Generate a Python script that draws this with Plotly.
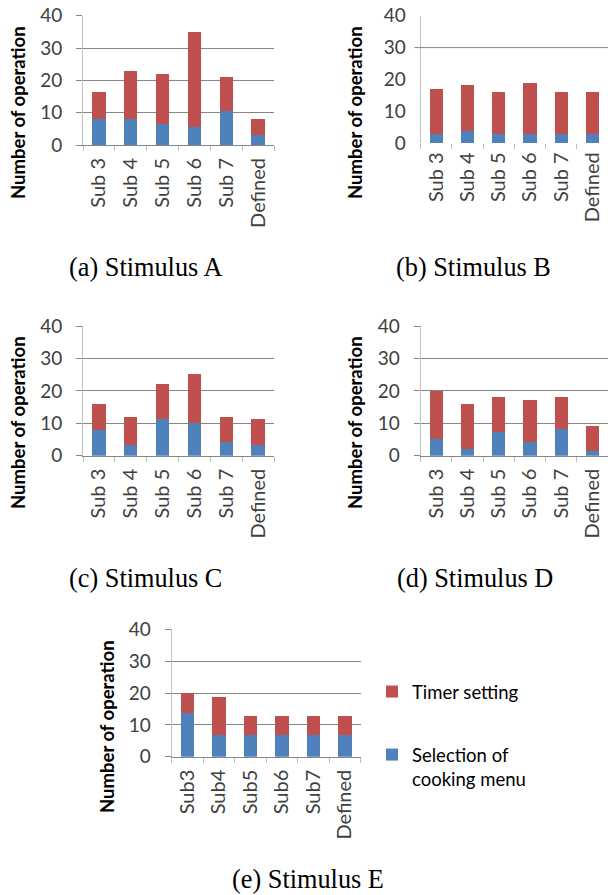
import plotly.graph_objects as go

cats_abcd = ["Sub 3", "Sub 4", "Sub 5", "Sub 6", "Sub 7", "Defined"]
cats_e = ["Sub3", "Sub4", "Sub5", "Sub6", "Sub7", "Defined"]

# Selection of cooking menu (blue) and Timer setting (red) per stimulus
sel_a = [8, 8, 6.5, 5.5, 10.5, 3]
tim_a = [8.3, 15, 15.5, 29.5, 10.5, 5]
sel_b = [2.8, 4, 2.8, 2.8, 2.8, 2.8]
tim_b = [14.2, 14.2, 13.2, 16.2, 13.2, 13.2]
sel_c = [8, 3.4, 11.2, 10, 4.2, 3.4]
tim_c = [8, 8.6, 10.8, 15.1, 7.8, 7.8]
sel_d = [5, 2.2, 7.4, 4.2, 8.1, 1.3]
tim_d = [15, 13.7, 10.6, 13, 9.9, 8]
sel_e = [13.6, 6.8, 6.8, 6.8, 6.8, 6.8]
tim_e = [6.3, 12, 6.1, 6.1, 6.1, 6.1]

y_ticks = [0, 10, 20, 30, 40]
captions = ["(a) Stimulus A", "(b) Stimulus B", "(c) Stimulus C", "(d) Stimulus D", "(e) Stimulus E"]
y_title = "Number of operation"
legend_names = ["Selection of<br>cooking menu", "Timer setting"]

BLUE = "#4F81BD"
RED = "#C0504D"
GRID = "#868686"
LIGHT = "#BFBFBF"
TXT = "#404040"
FONT = "Lato"

W, H = 608, 895

def px(x):
    return x / W

def py(y):
    return 1 - y / H

panels = [
    # (cats, sel, tim, x0, x1, ytop, ybot, grid)
    (cats_abcd, sel_a, tim_a, 83, 274, 15.7, 145, True),
    (cats_abcd, sel_b, tim_b, 420.7, 608, 15.7, 143.3, False),
    (cats_abcd, sel_c, tim_c, 83, 274, 326, 455.7, True),
    (cats_abcd, sel_d, tim_d, 420.7, 608, 326, 455.7, True),
    (cats_e, sel_e, tim_e, 171.7, 360.7, 629.3, 756.7, True),
]

fig = go.Figure()
layout = {}
for i, (cats, sel, tim, x0, x1, yt, yb, grid) in enumerate(panels):
    n = i + 1
    xa = "x" if n == 1 else f"x{n}"
    ya = "y" if n == 1 else f"y{n}"
    show = (n == 5)
    fig.add_trace(go.Bar(x=cats, y=sel, name=legend_names[0], marker_color=BLUE,
                         marker_line_width=0, xaxis=xa, yaxis=ya, showlegend=show,
                         legendgroup="sel", legendrank=2))
    fig.add_trace(go.Bar(x=cats, y=tim, name=legend_names[1], marker_color=RED,
                         marker_line_width=0, xaxis=xa, yaxis=ya, showlegend=show,
                         legendgroup="tim", legendrank=1))
    layout[f"xaxis{'' if n == 1 else n}"] = dict(
        domain=[max(px(x0), 0.0), min(px(x1), 1.0)], anchor=ya,
        showline=grid, linecolor=GRID, linewidth=1,
        ticks="outside", tickson="boundaries", ticklen=5, tickcolor=LIGHT,
        tickangle=-90, tickfont=dict(family=FONT, size=20, color=TXT),
        ticklabelstandoff=4, showgrid=False, fixedrange=True, automargin=False,
        ticklabeloverflow="allow",
    )
    layout[f"yaxis{'' if n == 1 else n}"] = dict(
        domain=[py(yb), py(yt)], anchor=xa, range=[0, 40],
        tickvals=y_ticks, showgrid=grid, gridcolor=GRID, gridwidth=1,
        zeroline=False, showline=True, linecolor=LIGHT, linewidth=1,
        ticks="outside" if grid else "", ticklen=6, tickcolor=GRID,
        tickfont=dict(family=FONT, size=19, color=TXT), ticklabelstandoff=10,
        fixedrange=True, automargin=False, ticklabeloverflow="allow",
    )

fig.update_layout(**layout)

# Panel B shows only its 30 gridline
fig.add_shape(type="line", xref="x2 domain", yref="y2", x0=-0.034, x1=1, y0=30, y1=30,
              line=dict(color=GRID, width=1))

title_pos = [(18, 113), (355, 113), (18, 423), (355, 423), (107, 727)]
for (tx, ty) in title_pos:
    fig.add_annotation(text=y_title, x=px(tx), y=py(ty), xref="paper", yref="paper",
                       textangle=-90, showarrow=False, xanchor="center", yanchor="middle",
                       font=dict(family=FONT, size=18.5, color="#000000", weight="bold"))

cap_pos = [(145, 267), (473, 267), (145, 578), (475, 578), (308, 879)]
for cap, (cx, cy) in zip(captions, cap_pos):
    fig.add_annotation(text=cap, x=px(cx), y=py(cy), xref="paper", yref="paper",
                       showarrow=False, xanchor="center", yanchor="middle",
                       font=dict(family="Liberation Serif", size=26.3, color="#000000"))

fig.update_layout(
    width=W, height=H,
    margin=dict(l=0, r=0, t=0, b=0, pad=0, autoexpand=False),
    paper_bgcolor="white", plot_bgcolor="white",
    barmode="stack", bargap=0.58,
    showlegend=True,
    legend=dict(x=px(372), y=py(673), xanchor="left", yanchor="top",
                traceorder="grouped", tracegroupgap=36, valign="top",
                font=dict(family=FONT, size=18.5, color="#000000"),
                itemwidth=30, bgcolor="rgba(0,0,0,0)"),
)

fig.write_html("out.html", config={"displayModeBar": False},
               post_script="document.body.style.margin='0';")
